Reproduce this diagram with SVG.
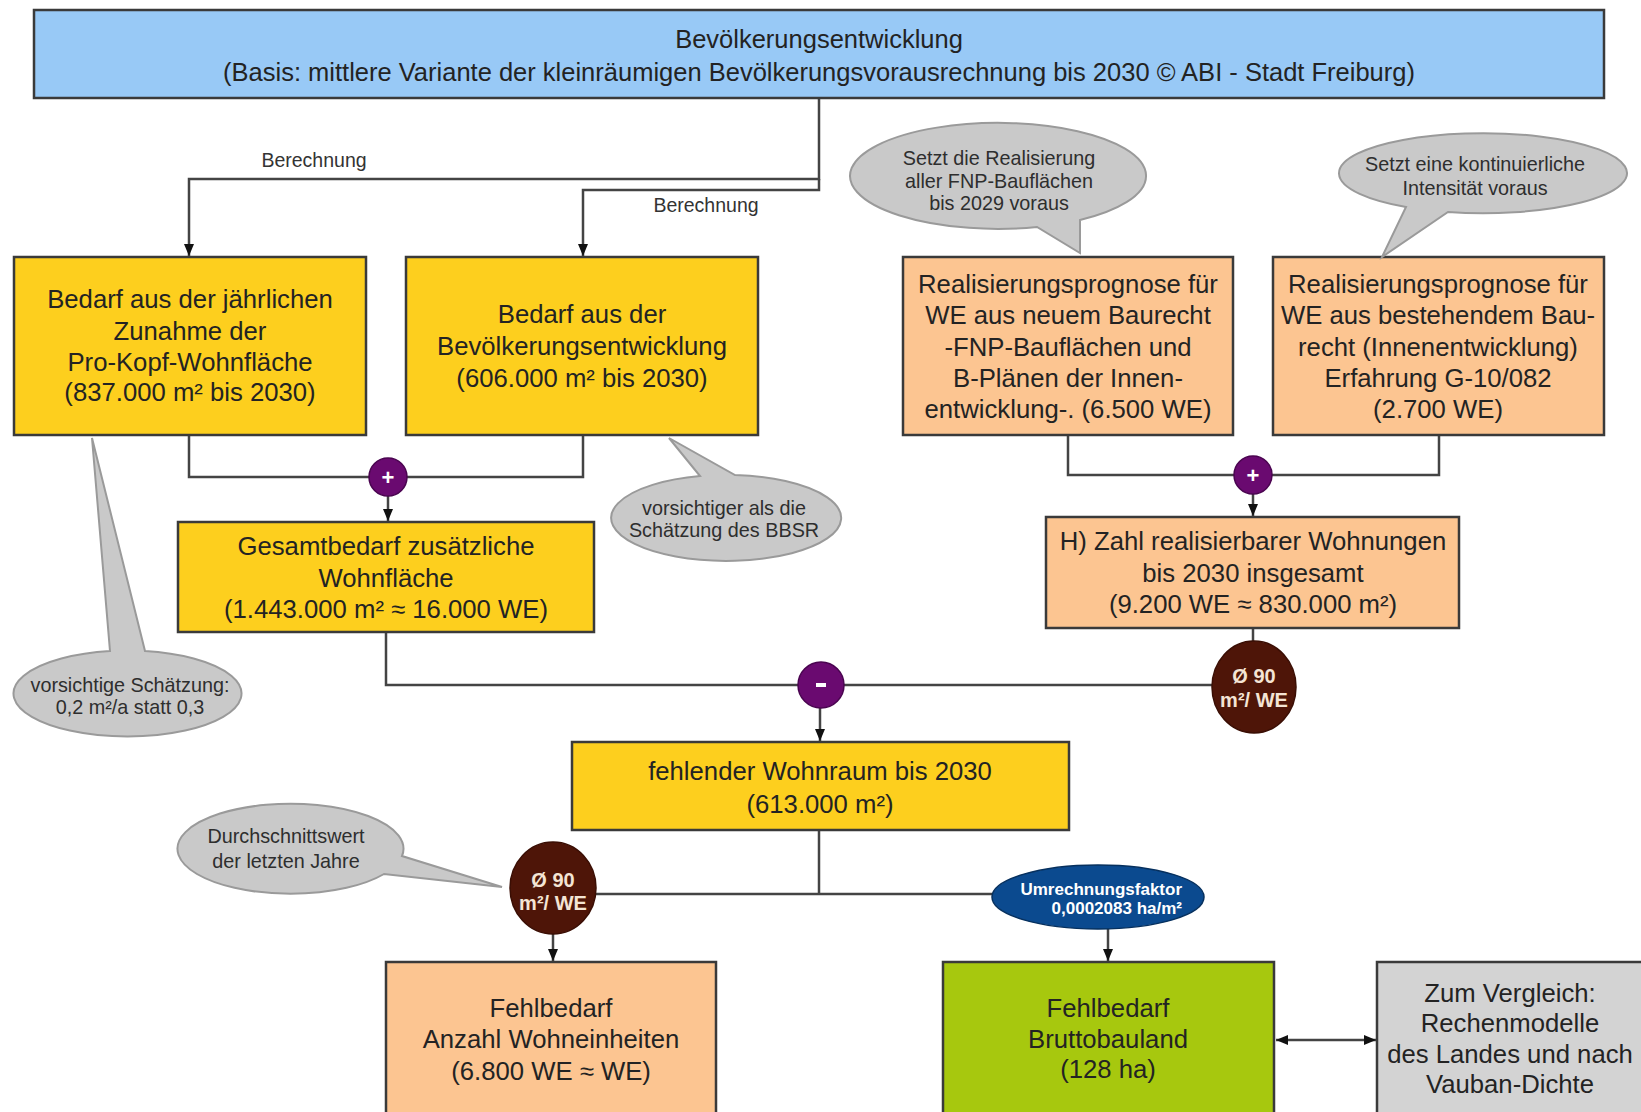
<svg xmlns="http://www.w3.org/2000/svg" width="1641" height="1112" viewBox="0 0 1641 1112">
<defs>
<marker id="arr" viewBox="0 0 12 10" refX="12" refY="5" markerWidth="12" markerHeight="10" markerUnits="userSpaceOnUse" orient="auto-start-reverse"><path d="M0,0 L12,5 L0,10 z" fill="#111"/></marker>
</defs>
<style>
.box{stroke:#3a3a3a;stroke-width:2.5}
.blue{fill:#98c9f6}
.yel{fill:#fdcf1e}
.peach{fill:#fcc591}
.green{fill:#a7c80e}
.grey{fill:#d3d3d3}
.t{font-family:"Liberation Sans",Arial,sans-serif;fill:#232323;text-anchor:middle}
.tb{font-size:25.7px}
.tt{font-size:25.5px}
.tc{font-size:19.8px;fill:#2e2e2e}
.bub{fill:#c9c9c9;stroke:#9a9a9a;stroke-width:2}
.con{fill:none;stroke:#444;stroke-width:2.5}
.ar{marker-end:url(#arr)}
.lab{font-size:19.5px;fill:#333}
.wb{fill:#f4e4d4;font-weight:bold;font-size:20px}
.purple{fill:#6a0a70;stroke:#4a0450;stroke-width:1.5}
.brown{fill:#4e1508;stroke:#3a0e04;stroke-width:1.5}
</style>
<rect width="1641" height="1112" fill="#ffffff"/>

<g id="connectors">
<path class="con ar" d="M819,98 V179 H189 V256"/>
<path class="con ar" d="M819,179 V190 H583 V256"/>
<path class="con" d="M189,435 V477 H583 V435"/>
<path class="con ar" d="M388,496 V521"/>
<path class="con" d="M1068,435 V475 H1439 V435"/>
<path class="con ar" d="M1253,494 V516"/>
<path class="con" d="M386,632 V685 H1212"/>
<path class="con" d="M1253,628 V641"/>
<path class="con ar" d="M820,708 V741"/>
<path class="con" d="M819,830 V894"/>
<path class="con" d="M596,894 H993"/>
<path class="con ar" d="M553,934 V961"/>
<path class="con ar" d="M1108,929 V961"/>
<path class="con ar" style="marker-start:url(#arr)" d="M1276,1040 H1376"/>
<text class="t lab" x="314" y="167">Berechnung</text>
<text class="t lab" x="706" y="212">Berechnung</text>
</g>

<g id="n-top">
<rect class="box blue" x="34" y="10" width="1570" height="88"/>
<text class="t tt" x="819" y="48">Bevölkerungsentwicklung</text>
<text class="t tt" x="819" y="81">(Basis: mittlere Variante der kleinräumigen Bevölkerungsvorausrechnung bis 2030 © ABI - Stadt Freiburg)</text>
</g>

<g id="n-bedarf1">
<rect class="box yel" x="14" y="257" width="352" height="178"/>
<text class="t tb" x="190" y="308">Bedarf aus der jährlichen</text>
<text class="t tb" x="190" y="340">Zunahme der</text>
<text class="t tb" x="190" y="371">Pro-Kopf-Wohnfläche</text>
<text class="t tb" x="190" y="401">(837.000 m² bis 2030)</text>
</g>

<g id="n-bedarf2">
<rect class="box yel" x="406" y="257" width="352" height="178"/>
<text class="t tb" x="582" y="323">Bedarf aus der</text>
<text class="t tb" x="582" y="355">Bevölkerungsentwicklung</text>
<text class="t tb" x="582" y="387">(606.000 m² bis 2030)</text>
</g>

<g id="n-real1">
<rect class="box peach" x="903" y="257" width="330" height="178"/>
<text class="t tb" x="1068" y="293">Realisierungsprognose für</text>
<text class="t tb" x="1068" y="324">WE aus neuem Baurecht</text>
<text class="t tb" x="1068" y="356">-FNP-Bauflächen und</text>
<text class="t tb" x="1068" y="387">B-Plänen der Innen-</text>
<text class="t tb" x="1068" y="418">entwicklung-. (6.500 WE)</text>
</g>

<g id="n-real2">
<rect class="box peach" x="1273" y="257" width="331" height="178"/>
<text class="t tb" x="1438" y="293">Realisierungsprognose für</text>
<text class="t tb" x="1438" y="324">WE aus bestehendem Bau-</text>
<text class="t tb" x="1438" y="356">recht (Innenentwicklung)</text>
<text class="t tb" x="1438" y="387">Erfahrung G-10/082</text>
<text class="t tb" x="1438" y="418">(2.700 WE)</text>
</g>

<g id="n-bubble1">
<path class="bub" d="M1037,227 A148,53 0 1 1 1080,220 L1080,253 Z"/>
<text class="t tc" x="999" y="165">Setzt die Realisierung</text>
<text class="t tc" x="999" y="188">aller FNP-Bauflächen</text>
<text class="t tc" x="999" y="210">bis 2029 voraus</text>
</g>

<g id="n-bubble2">
<path class="bub" d="M1406,207 A144,40 0 1 1 1448,212 L1382,257 Z"/>
<text class="t tc" x="1475" y="171">Setzt eine kontinuierliche</text>
<text class="t tc" x="1475" y="195">Intensität voraus</text>
</g>

<g id="n-bubble3">
<path class="bub" d="M735,475 A115,43 0 1 1 700,476 L669,438 Z"/>
<text class="t tc" x="724" y="515">vorsichtiger als die</text>
<text class="t tc" x="724" y="537">Schätzung des BBSR</text>
</g>

<g id="n-bubble4">
<path class="bub" d="M145,651 A114,43 0 1 1 110,651 L92,438 Z"/>
<text class="t tc" x="130" y="692">vorsichtige Schätzung:</text>
<text class="t tc" x="130" y="714">0,2 m²/a statt 0,3</text>
</g>

<g id="n-bubble5">
<path class="bub" d="M384,874 A113,45 0 1 1 402,856 L502,887 Z"/>
<text class="t tc" x="286" y="843">Durchschnittswert</text>
<text class="t tc" x="286" y="868">der letzten Jahre</text>
</g>

<g id="n-plus1">
<circle class="purple" cx="388" cy="477" r="19"/>
<text class="t" x="388" y="485" style="fill:#fff;font-weight:bold;font-size:22px">+</text>
</g>

<g id="n-plus2">
<circle class="purple" cx="1253" cy="475" r="19"/>
<text class="t" x="1253" y="483" style="fill:#fff;font-weight:bold;font-size:22px">+</text>
</g>

<g id="n-gesamt">
<rect class="box yel" x="178" y="522" width="416" height="110"/>
<text class="t tb" x="386" y="555">Gesamtbedarf zusätzliche</text>
<text class="t tb" x="386" y="587">Wohnfläche</text>
<text class="t tb" x="386" y="618">(1.443.000 m² ≈ 16.000 WE)</text>
</g>

<g id="n-zahl">
<rect class="box peach" x="1046" y="517" width="413" height="111"/>
<text class="t tb" x="1253" y="550">H) Zahl realisierbarer Wohnungen</text>
<text class="t tb" x="1253" y="582">bis 2030 insgesamt</text>
<text class="t tb" x="1253" y="613">(9.200 WE ≈ 830.000 m²)</text>
</g>

<g id="n-minus">
<circle class="purple" cx="821" cy="685" r="23"/>
<rect x="816" y="683" width="10" height="4" fill="#fff"/>
</g>

<g id="n-factor1">
<ellipse class="brown" cx="1254" cy="687" rx="42" ry="46"/>
<text class="t wb" x="1254" y="683">Ø 90</text>
<text class="t wb" x="1254" y="707">m²/ WE</text>
</g>

<g id="n-fehlend">
<rect class="box yel" x="572" y="742" width="497" height="88"/>
<text class="t tb" x="820" y="780">fehlender Wohnraum bis 2030</text>
<text class="t tb" x="820" y="813">(613.000 m²)</text>
</g>

<g id="n-factor2">
<ellipse class="brown" cx="553" cy="888" rx="43" ry="46"/>
<text class="t wb" x="553" y="887">Ø 90</text>
<text class="t wb" x="553" y="910">m²/ WE</text>
</g>

<g id="n-umrechnung">
<ellipse cx="1098" cy="897" rx="106" ry="32" fill="#0b4a8f" stroke="#06305e" stroke-width="1.5"/>
<text class="t" x="1182" y="895" style="text-anchor:end;fill:#fff;font-weight:bold;font-size:17px">Umrechnungsfaktor</text>
<text class="t" x="1182" y="914" style="text-anchor:end;fill:#fff;font-weight:bold;font-size:17px">0,0002083 ha/m²</text>
</g>

<g id="n-fehlwe">
<rect class="box peach" x="386" y="962" width="330" height="170"/>
<text class="t tb" x="551" y="1017">Fehlbedarf</text>
<text class="t tb" x="551" y="1048">Anzahl Wohneinheiten</text>
<text class="t tb" x="551" y="1080">(6.800 WE ≈ WE)</text>
</g>

<g id="n-fehlland">
<rect class="box green" x="943" y="962" width="331" height="170"/>
<text class="t tb" x="1108" y="1017">Fehlbedarf</text>
<text class="t tb" x="1108" y="1048">Bruttobauland</text>
<text class="t tb" x="1108" y="1078">(128 ha)</text>
</g>

<g id="n-vergleich">
<rect class="box grey" x="1377" y="962" width="270" height="170"/>
<text class="t tb" x="1510" y="1002">Zum Vergleich:</text>
<text class="t tb" x="1510" y="1032">Rechenmodelle</text>
<text class="t tb" x="1510" y="1063">des Landes und nach</text>
<text class="t tb" x="1510" y="1093">Vauban-Dichte</text>
</g>
</svg>
